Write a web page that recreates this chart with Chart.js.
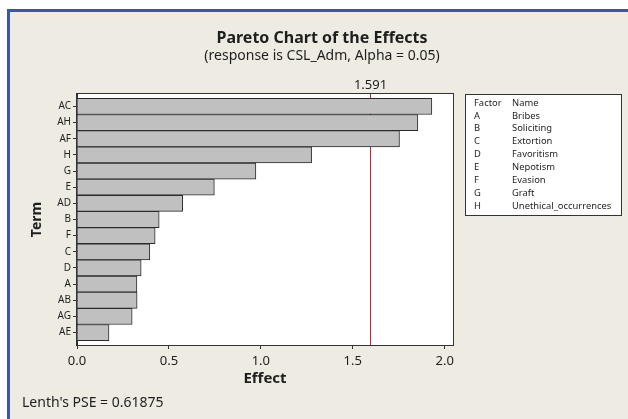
<!DOCTYPE html>
<html>
<head>
<meta charset="utf-8">
<title>Pareto Chart of the Effects</title>
<script src="https://cdn.jsdelivr.net/npm/chart.js@4/dist/chart.umd.min.js"></script>
<style>
  html, body { margin: 0; padding: 0; background: #ffffff; overflow: hidden; }
  canvas { display: block; }
</style>
</head>
<body>
<canvas id="pareto" width="628" height="419"></canvas>
<script>
// Terms, ordered from largest to smallest absolute effect
const terms = ['AC', 'AH', 'AF', 'H', 'G', 'E', 'AD', 'B', 'F', 'C', 'D', 'A', 'AB', 'AG', 'AE'];
const effects = [1.930, 1.854, 1.754, 1.276, 0.973, 0.747, 0.575, 0.447, 0.425, 0.396, 0.349, 0.326, 0.327, 0.300, 0.174];
const effectTicks = [0, 0.5, 1.0, 1.5, 2.0];
const criticalEffect = 1.591;
const lenthPSE = 0.61875;
const factorCodes = ['A', 'B', 'C', 'D', 'E', 'F', 'G', 'H'];
const factorNames = ['Bribes', 'Soliciting', 'Extortion', 'Favoritism', 'Nepotism', 'Evasion', 'Graft', 'Unethical_occurrences'];

const FONT = '"Noto Sans", "DejaVu Sans", sans-serif';
const INK = '#1e1e1e';

// Window frame, plot box, reference line and the surrounding annotations
const decorations = {
  id: 'decorations',
  beforeDraw(chart) {
    const { ctx, chartArea: a, width, height } = chart;
    ctx.save();
    ctx.fillStyle = '#ffffff';
    ctx.fillRect(0, 0, width, height);
    ctx.fillStyle = '#3559a3';
    ctx.fillRect(7, 9, width - 7, height - 9);
    ctx.fillStyle = '#eeebe2';
    ctx.fillRect(10, 12, width - 10, height - 12);
    ctx.fillStyle = '#ffffff';
    ctx.fillRect(a.left, a.top, a.right - a.left, a.bottom - a.top);
    ctx.restore();
  },
  beforeDatasetsDraw(chart) {
    const { ctx, chartArea: a, scales } = chart;
    const x = Math.round(scales.x.getPixelForValue(criticalEffect)) + 0.5;
    ctx.save();
    ctx.strokeStyle = '#c8232c';
    ctx.lineWidth = 1;
    ctx.beginPath();
    ctx.moveTo(x, a.top);
    ctx.lineTo(x, a.bottom);
    ctx.stroke();
    ctx.fillStyle = INK;
    ctx.font = '13px ' + FONT;
    ctx.textAlign = 'center';
    ctx.textBaseline = 'middle';
    ctx.fillText(criticalEffect.toFixed(3), x, 85);
    ctx.restore();
  },
  afterDraw(chart) {
    const { ctx, chartArea: a } = chart;
    ctx.save();
    // plot frame
    ctx.strokeStyle = '#333333';
    ctx.lineWidth = 1;
    ctx.strokeRect(a.left - 0.5, a.top - 0.5, a.right - a.left + 1, a.bottom - a.top + 1);

    ctx.fillStyle = INK;
    ctx.textAlign = 'center';
    ctx.textBaseline = 'middle';
    ctx.font = 'bold 16px ' + FONT;
    ctx.fillText('Pareto Chart of the Effects', 322, 38);
    ctx.font = '14px ' + FONT;
    ctx.fillText('(response is CSL_Adm, Alpha = 0.05)', 322, 56);

    // axis titles
    ctx.font = 'bold 15px ' + FONT;
    ctx.fillText('Effect', (a.left + a.right) / 2, 379);
    ctx.save();
    ctx.translate(37, (a.top + a.bottom) / 2);
    ctx.rotate(-Math.PI / 2);
    ctx.font = 'bold 14px ' + FONT;
    ctx.fillText('Term', 0, 0);
    ctx.restore();

    // footnote
    ctx.textAlign = 'left';
    ctx.font = '14px ' + FONT;
    ctx.fillText("Lenth's PSE = " + lenthPSE, 22, 403);

    // factor key
    const bx = 465, by = 94, bw = 156, bh = 121;
    ctx.fillStyle = '#ffffff';
    ctx.fillRect(bx, by, bw, bh);
    ctx.strokeStyle = '#333333';
    ctx.strokeRect(bx + 0.5, by + 0.5, bw, bh);
    ctx.fillStyle = INK;
    ctx.font = '9.4px ' + FONT;
    const row0 = 103, rowStep = 12.9;
    ctx.fillText('Factor', 474, row0);
    ctx.fillText('Name', 512, row0);
    factorCodes.forEach((c, i) => {
      const y = row0 + rowStep * (i + 1);
      ctx.fillText(c, 474, y);
      ctx.fillText(factorNames[i], 512, y);
    });
    ctx.restore();
  }
};

new Chart(document.getElementById('pareto'), {
  type: 'bar',
  data: {
    datasets: [{
      data: effects.map((v, i) => ({ x: v, y: i })),
      backgroundColor: '#c0c0c0',
      borderColor: '#2b2b2b',
      borderWidth: 1,
      barThickness: 'flex',
      barPercentage: 1,
      categoryPercentage: 1
    }]
  },
  options: {
    indexAxis: 'y',
    responsive: false,
    animation: false,
    events: [],
    layout: { padding: { top: 94, right: 175, left: 0, bottom: 0 } },
    plugins: { legend: { display: false }, tooltip: { enabled: false }, title: { display: false } },
    scales: {
      x: {
        type: 'linear',
        min: 0,
        max: 2.045,
        afterBuildTicks: s => { s.ticks = effectTicks.map(v => ({ value: v })); },
        afterFit: s => { s.height = 74; },
        ticks: {
          callback: v => Number(v).toFixed(1),
          color: INK,
          font: { family: FONT, size: 13 },
          padding: 4,
          maxRotation: 0
        },
        grid: { drawOnChartArea: false, drawTicks: true, tickLength: 4, tickColor: '#333333' },
        border: { display: true, color: '#333333' }
      },
      y: {
        type: 'linear',
        reverse: true,
        offset: false,
        min: -0.77,
        max: terms.length - 1 + 0.77,
        afterBuildTicks: s => { s.ticks = terms.map((t, i) => ({ value: i })); },
        afterFit: s => { s.width = 77; },
        ticks: {
          callback: v => terms[v],
          autoSkip: false,
          color: INK,
          font: { family: FONT, size: 10 },
          padding: 2
        },
        grid: { offset: false, drawOnChartArea: false, drawTicks: true, tickLength: 4, tickColor: '#333333' },
        border: { display: true, color: '#333333' }
      }
    }
  },
  plugins: [decorations]
});
</script>
</body>
</html>
